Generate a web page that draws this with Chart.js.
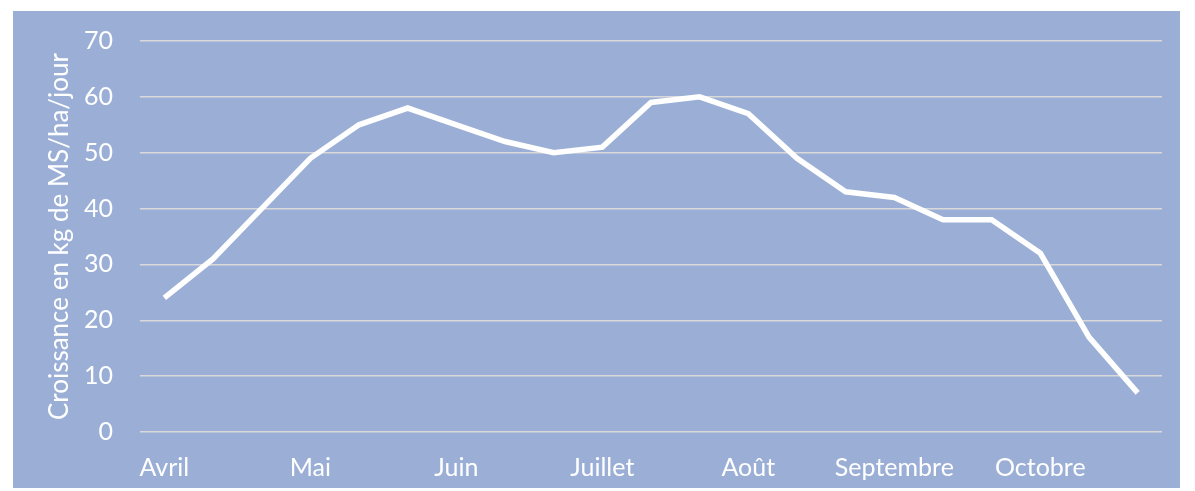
<!DOCTYPE html>
<html lang="fr">
<head>
    <meta charset="UTF-8">
    <title>Croissance de l'herbe</title>
    <script src="https://cdn.jsdelivr.net/npm/chart.js"></script>
    <style>
        body { margin: 0; background-color: #ffffff; }
        #chartBox { position: absolute; left: 13px; top: 11px; width: 1167px; height: 477px; background-color: #9bafd6; }
        #growthChart { width: 100%; height: 100%; }
    </style>
</head>
<body>
    <div id="chartBox">
        <canvas id="growthChart"></canvas>
    </div>

    <script>
        // mois affiches sous l'axe (un point sur trois porte un nom)
        const periods = ['Avril', '', '', 'Mai', '', '', 'Juin', '', '', 'Juillet', '', '',
                         'Août', '', '', 'Septembre', '', '', 'Octobre', '', ''];
        const growth = [24, 31, 40, 49, 55, 58, 55, 52, 50, 51, 59, 60, 57, 49, 43, 42, 38, 38, 32, 17, 7];
        const yTicks = [0, 10, 20, 30, 40, 50, 60, 70];
        const yTitle = 'Croissance en kg de MS/ha/jour';

        const tickFont = { family: 'Lato, "Open Sans", sans-serif', size: 25 };
        const titleFont = { family: 'Lato, "Open Sans", sans-serif', size: 26 };

        new Chart(document.getElementById('growthChart'), {
            type: 'line',
            data: {
                labels: periods,
                datasets: [{
                    data: growth,
                    borderColor: '#ffffff',
                    borderWidth: 5.5,
                    pointRadius: 0,
                    tension: 0,
                    fill: false
                }]
            },
            options: {
                responsive: true,
                maintainAspectRatio: false,
                animation: false,
                layout: { padding: { top: 30, right: 18, left: 27, bottom: 6 } },
                plugins: {
                    legend: { display: false },
                    tooltip: { enabled: false }
                },
                scales: {
                    x: {
                        offset: true,
                        grid: { display: false },
                        border: { display: false },
                        ticks: { color: '#ffffff', font: tickFont, autoSkip: false, maxRotation: 0, padding: 13 },
                        afterFit: axis => {
                            axis.height = 50;
                            axis.paddingLeft = 0;
                            axis.paddingRight = 0;
                        }
                    },
                    y: {
                        min: 0,
                        max: 70,
                        afterBuildTicks: axis => { axis.ticks = yTicks.map(v => ({ value: v })); },
                        grid: { color: '#d9d9d9', lineWidth: 1.5, drawTicks: false },
                        border: { display: false },
                        ticks: { color: '#ffffff', font: tickFont, padding: 27 },
                        title: { display: true, text: yTitle, color: '#ffffff', font: titleFont, padding: 4 },
                        afterFit: axis => {
                            axis.width = 100;
                            axis.paddingTop = 0;
                            axis.paddingBottom = 0;
                        }
                    }
                }
            }
        });
    </script>
</body>
</html>
